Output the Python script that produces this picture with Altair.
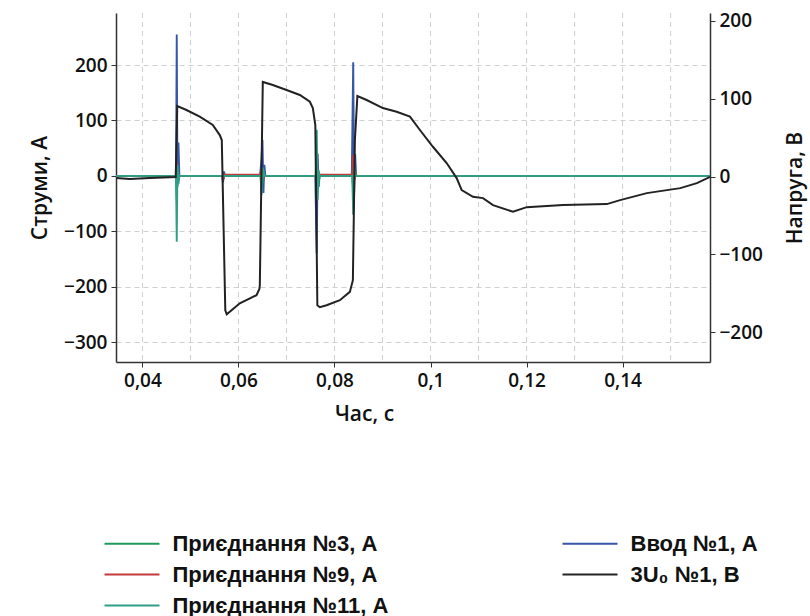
import altair as alt
import pandas as pd

# ---- axes / ticks ----
t_domain = [0.0345, 0.1582]
x_ticks = [0.04, 0.06, 0.08, 0.10, 0.12, 0.14]
grid_t = [0.04, 0.05, 0.06, 0.07, 0.08, 0.09, 0.10, 0.11, 0.12, 0.13, 0.14, 0.15]
amp_domain = [-336, 294]
amp_ticks = [-300, -200, -100, 0, 100, 200]
volt_domain = [-238, 210]
volt_ticks = [-200, -100, 0, 100, 200]

# ---- series names / colours (legend order: column 1 then column 2) ----
names = ["Приєднання №3, А", "Приєднання №9, А", "Приєднання №11, А", "Ввод №1, А", "3U₀ №1, В"]
colors = ["#1f9a5c", "#c23b3b", "#2f9e86", "#3656a8", "#222222"]

# ---- 3U0 (V) ----
u0_t = [0.03454, 0.03735, 0.04152, 0.04694, 0.04725, 0.04917, 0.05194, 0.05465, 0.05611, 0.05653,
        0.05726, 0.05757, 0.06028, 0.06376, 0.06434, 0.06445, 0.06507, 0.06716, 0.07001, 0.07278,
        0.07487, 0.07549, 0.07601, 0.07643, 0.07695, 0.07835, 0.08112, 0.0832, 0.08383, 0.08425,
        0.08477, 0.08669, 0.09008, 0.09294, 0.09571, 0.09779, 0.1005, 0.10336, 0.10544, 0.10649,
        0.10884, 0.11093, 0.11301, 0.11718, 0.12003, 0.1276, 0.13671, 0.13948, 0.14504, 0.15202,
        0.15547, 0.15824]
u0_v = [-1.9, -3.2, -1.9, -0.6, 90.6, 85.5, 76.9, 66.2, 53.3, 46.9,
        -171.6, -176.7, -162.6, -152.3, -144.6, -140.0, 121.5, 117.6, 111.2, 104.8,
        96.1, 88.0, 66.2, -165.2, -167.7, -165.2, -158.7, -148.0, -133.0, 47.0,
        103.5, 98.3, 88.0, 83.3, 76.9, 59.8, 38.3, 17.4, -1.9, -17.4,
        -26.0, -27.6, -36.6, -45.2, -39.2, -36.6, -35.3, -30.2, -21.2, -14.8,
        -8.4, -0.3]

# ---- currents (A) ----
vvod_t = [0.0345, 0.0470, 0.04715, 0.0473, 0.0475, 0.0477, 0.0566, 0.0568, 0.0570, 0.0572,
          0.0645, 0.0648, 0.0650, 0.0652, 0.0654, 0.0656, 0.0760, 0.0763, 0.0765, 0.0767, 0.0769,
          0.0836, 0.0839, 0.0841, 0.0843, 0.0845, 0.1582]
vvod_i = [0, 0, 255, -20, 60, 0, 0, -12, 8, 0,
          0, 30, 65, -31, 20, 0, 0, -140, 40, -20, 0,
          0, 205, -30, 40, 0, 0]

p9_t = [0.0345, 0.0470, 0.04715, 0.0473, 0.0476, 0.0567, 0.0569, 0.0571, 0.0645, 0.0648, 0.0651,
        0.0654, 0.0762, 0.0764, 0.0766, 0.0768, 0.0837, 0.0839, 0.0841, 0.0844, 0.0846, 0.1582]
p9_i = [0, 0, 25, -8, 0, 0, -6, 2, 2, 12, -5,
        0, 0, -15, 6, 2, 2, 38, -10, 5, 0, 0]

p3_t = [0.0345, 0.0470, 0.04715, 0.0473, 0.0476, 0.0646, 0.0649, 0.0652, 0.0655, 0.0761, 0.0763,
        0.0766, 0.0769, 0.0837, 0.0839, 0.0842, 0.0845, 0.1582]
p3_i = [0, 0, -45, 15, 0, 0, -20, 10, 0, 0, 40,
        -20, 0, 0, -30, 12, 0, 0]

p11_t = [0.0345, 0.0470, 0.04715, 0.0473, 0.0475, 0.0477, 0.0646, 0.0648, 0.0651, 0.0654, 0.0761,
         0.0763, 0.0765, 0.0767, 0.0769, 0.0837, 0.0839, 0.0841, 0.0843, 0.1582]
p11_i = [0, 0, -119, 20, -15, 0, 0, -35, 15, 0, 0,
         83, -43, 10, 0, 0, -70, 15, 0, 0]

u0_df = pd.DataFrame({"t": u0_t, "v": u0_v, "s": names[4]})
cur_frames = [
    pd.DataFrame({"t": vvod_t, "v": vvod_i, "s": names[3]}),
    pd.DataFrame({"t": p9_t, "v": p9_i, "s": names[1]}),
    pd.DataFrame({"t": p3_t, "v": p3_i, "s": names[0]}),
    pd.DataFrame({"t": p11_t, "v": p11_i, "s": names[2]}),
]
grid_df = pd.DataFrame({"t": grid_t})

FONT = "Open Sans"

x_enc = alt.X("t:Q", scale=alt.Scale(domain=t_domain, nice=False, zero=False),
              axis=alt.Axis(values=x_ticks, grid=False, title="Час, с",
                            labelExpr="replace(format(datum.value, '.2~f'), '.', ',')",
                            titleX=248, titleY=52, titleBaseline="middle"))

color_enc = alt.Color("s:N", scale=alt.Scale(domain=names, range=colors),
                      legend=alt.Legend(title=None, orient="none", legendX=4.5, legendY=519,
                                        columns=2, columnPadding=169, rowPadding=8,
                                        symbolType="M-2.75,0H2.75", symbolSize=400,
                                        symbolStrokeWidth=2.2, labelFontSize=22,
                                        labelFontWeight="bold", labelFont="Liberation Sans",
                                        labelColor="#111111", labelOffset=29, padding=0,
                                        labelLimit=400))

grid = alt.Chart(grid_df).mark_rule(color="#cfcfcf", strokeDash=[5, 4], strokeWidth=1).encode(
    x=alt.X("t:Q", scale=alt.Scale(domain=t_domain, nice=False, zero=False))
)

u0_line = alt.Chart(u0_df).mark_line(strokeWidth=2, clip=True).encode(
    x=x_enc,
    y=alt.Y("v:Q", scale=alt.Scale(domain=volt_domain, nice=False, zero=False),
            axis=alt.Axis(orient="right", values=volt_ticks, grid=False, title="Напруга, В",
                          titleAngle=270, titleX=85, titleBaseline="middle")),
    color=color_enc,
)

cur_layers = []
for df in cur_frames:
    cur_layers.append(
        alt.Chart(df).mark_line(strokeWidth=1.9, clip=True).encode(
            x=x_enc,
            y=alt.Y("v:Q", scale=alt.Scale(domain=amp_domain, nice=False, zero=False),
                    axis=alt.Axis(orient="left", values=amp_ticks, grid=True,
                                  gridDash=[5, 4], gridColor="#cfcfcf", title="Струми, А",
                                  titleAngle=270, titleX=-76, titleBaseline="middle")),
            color=color_enc,
        )
    )

currents = alt.layer(*cur_layers)

chart = alt.layer(grid, currents, u0_line).resolve_scale(y="independent").properties(
    width=594, height=349,
    autosize=alt.AutoSizeParams(type="none"),
    padding={"left": 116, "top": 13, "right": 100, "bottom": 254},
).configure_view(stroke=None).configure_axis(
    domainColor="#333333", domainWidth=1.5, tickColor="#333333", tickSize=5,
    labelFont=FONT, labelFontSize=19, labelFontWeight=600, labelColor="#111111", labelPadding=4,
    titleFont=FONT, titleFontSize=21, titleFontWeight=600, titleColor="#111111",
)

chart.save("out.html", embed_options={"renderer": "svg", "actions": False})
